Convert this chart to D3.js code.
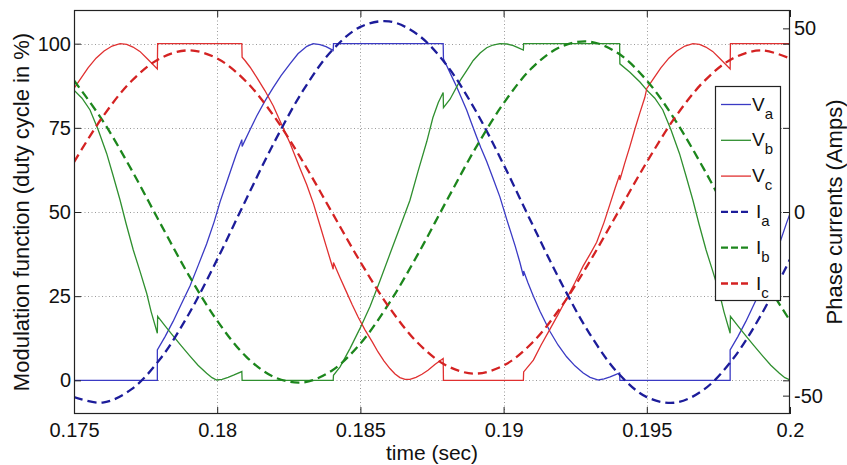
<!DOCTYPE html>
<html>
<head>
<meta charset="utf-8">
<script src="https://cdn.jsdelivr.net/npm/d3@7"></script>
<style>
  html, body { margin: 0; padding: 0; background: #fff; }
  svg { display: block; }
  text { font-family: "Liberation Sans", Arial, Helvetica, sans-serif; fill: #111; }
</style>
</head>
<body>
<svg id="chart" width="847" height="465"></svg>
<script>
// ---- axis ticks ----
const xTicks = [0.175, 0.18, 0.185, 0.19, 0.195, 0.2];
const xTickLabels = ["0.175", "0.18", "0.185", "0.19", "0.195", "0.2"];
const yLeftTicks = [0, 25, 50, 75, 100];
const yRightTicks = [-50, 0, 50];

// ---- phase currents (Amps), sampled every 1 ms ----
const tCurrent = [0.175, 0.176, 0.177, 0.178, 0.179, 0.180, 0.181, 0.182, 0.183, 0.184,
                  0.185, 0.186, 0.187, 0.188, 0.189, 0.190, 0.191, 0.192, 0.193, 0.194,
                  0.195, 0.196, 0.197, 0.198, 0.199, 0.200];
const iA = [-50.4, -51.9, -48.3, -40.1, -27.9, -12.9, 3.3, 19.1, 33.1, 43.9,
            50.4, 51.9, 48.3, 40.1, 27.9, 12.9, -3.3, -19.1, -33.1, -43.9,
            -50.4, -51.9, -48.3, -40.1, -27.9, -12.9];
const iB = [35.8, 24.9, 11.6, -2.9, -17.1, -29.6, -39.3, -45.0, -46.4, -43.2,
            -35.8, -24.9, -11.6, 2.9, 17.1, 29.6, 39.3, 45.0, 46.4, 43.2,
            35.8, 24.9, 11.6, -2.9, -17.1, -29.6];
const iC = [13.6, 25.9, 35.6, 41.8, 44.0, 41.8, 35.6, 25.9, 13.6, 0.0,
            -13.6, -25.9, -35.6, -41.8, -44.0, -41.8, -35.6, -25.9, -13.6, 0.0,
            13.6, 25.9, 35.6, 41.8, 44.0, 41.8];

// ---- modulation functions (duty cycle, %), [time, value] ----
const vA = [
  [0.17500, 0], [0.17791, 0], [0.17791, 9], [0.17818, 13], [0.17846, 17.5], [0.17874, 22.5],
  [0.17905, 28], [0.17933, 34], [0.17963, 40.5], [0.17989, 47], [0.18010, 53], [0.18038, 60],
  [0.18066, 67], [0.18086, 71.5], [0.18087, 69.5], [0.18115, 74.5], [0.18138, 78.5], [0.18167, 83],
  [0.18196, 87], [0.18223, 90.5], [0.18254, 94], [0.18282, 97], [0.18313, 99.2], [0.18335, 100],
  [0.18359, 99.7], [0.18380, 99.1], [0.18405, 98], [0.18406, 100], [0.18789, 100], [0.18790, 95.5],
  [0.18801, 93.5], [0.18816, 90.8], [0.18836, 87.2], [0.18851, 84.2], [0.18871, 80.3], [0.18886, 76.8],
  [0.18906, 72.3], [0.18921, 69], [0.18941, 65], [0.18963, 60], [0.18987, 54.5], [0.19012, 47.5],
  [0.19040, 40], [0.19057, 35], [0.19069, 31], [0.19070, 32.5], [0.19085, 29], [0.19104, 25],
  [0.19127, 20.5], [0.19162, 14.5], [0.19190, 10.5], [0.19220, 7], [0.19249, 4.3], [0.19278, 2.2],
  [0.19302, 0.9], [0.19331, 0.1], [0.19351, 0.4], [0.19372, 1], [0.19389, 1.6], [0.19405, 2.2],
  [0.19406, 0], [0.19791, 0], [0.19791, 9], [0.19818, 13], [0.19846, 17.5], [0.19874, 22.5],
  [0.19905, 28], [0.19933, 34], [0.19963, 40.5], [0.19989, 47], [0.20000, 49.5]
];
const vB = [
  [0.17500, 86.2], [0.17528, 83.8], [0.17556, 80.3], [0.17584, 74.5], [0.17614, 67.4], [0.17636, 61],
  [0.17661, 53.5], [0.17682, 46.5], [0.17707, 38.7], [0.17730, 32.5], [0.17754, 25.8], [0.17769, 20.5],
  [0.17791, 14], [0.17792, 19], [0.17818, 16.2], [0.17846, 13.2], [0.17874, 10.3], [0.17905, 7.2],
  [0.17933, 4.5], [0.17963, 2.1], [0.17982, 0.8], [0.17998, 0.1], [0.18017, 0.3], [0.18038, 0.9],
  [0.18059, 1.6], [0.18086, 2.6], [0.18087, 0], [0.18405, 0], [0.18406, 1.5], [0.18429, 4],
  [0.18464, 9.5], [0.18499, 15.5], [0.18534, 22], [0.18568, 29.5], [0.18603, 37.5], [0.18638, 45.5],
  [0.18673, 53.5], [0.18701, 62], [0.18732, 71], [0.18753, 78], [0.18772, 82.5], [0.18789, 85.5],
  [0.18790, 81], [0.18813, 83.5], [0.18848, 89], [0.18871, 92], [0.18894, 95], [0.18918, 97.2],
  [0.18941, 98.8], [0.18963, 99.6], [0.18987, 100], [0.19012, 99.9], [0.19034, 99.4], [0.19050, 98.8],
  [0.19069, 98.1], [0.19070, 100], [0.19405, 100], [0.19406, 94], [0.19441, 91.5], [0.19476, 88.6],
  [0.19500, 86.2], [0.19528, 83.8], [0.19556, 80.3], [0.19584, 74.5], [0.19614, 67.4], [0.19636, 61],
  [0.19661, 53.5], [0.19682, 46.5], [0.19707, 38.7], [0.19730, 32.5], [0.19754, 25.8], [0.19769, 20.5],
  [0.19791, 14], [0.19792, 19], [0.19818, 16.2], [0.19846, 13.2], [0.19874, 10.3], [0.19905, 7.2],
  [0.19933, 4.5], [0.19963, 2.1], [0.19982, 0.8], [0.20000, 0.1]
];
const vC = [
  [0.17500, 86.7], [0.17521, 89.3], [0.17549, 92.8], [0.17577, 95.7], [0.17605, 97.8], [0.17633, 99.3],
  [0.17661, 100], [0.17684, 99.8], [0.17706, 99], [0.17730, 97.7], [0.17755, 95.6], [0.17791, 92.5],
  [0.17792, 100], [0.18086, 100], [0.18087, 96], [0.18097, 95], [0.18115, 93], [0.18138, 90],
  [0.18167, 86], [0.18196, 81.5], [0.18230, 75], [0.18254, 70.5], [0.18289, 63], [0.18313, 58],
  [0.18336, 52.5], [0.18359, 46], [0.18380, 40], [0.18405, 33], [0.18406, 35], [0.18429, 30.5],
  [0.18450, 26.5], [0.18471, 22.5], [0.18492, 18.8], [0.18516, 15], [0.18541, 11.5], [0.18561, 8.5],
  [0.18582, 5.8], [0.18603, 3.5], [0.18621, 1.9], [0.18638, 0.8], [0.18656, 0.3], [0.18673, 0.3],
  [0.18694, 0.9], [0.18715, 1.8], [0.18736, 3], [0.18760, 4.7], [0.18789, 6.5], [0.18790, 0],
  [0.19069, 0], [0.19070, 2.5], [0.19104, 6], [0.19131, 10.5], [0.19162, 15.2], [0.19190, 19.5],
  [0.19220, 24.3], [0.19249, 29], [0.19278, 34], [0.19302, 37.5], [0.19325, 41], [0.19351, 47],
  [0.19372, 52.5], [0.19389, 57], [0.19405, 61], [0.19406, 59.5], [0.19423, 64.5], [0.19441, 69.5],
  [0.19458, 74.5], [0.19476, 79.5], [0.19493, 84], [0.19500, 86.7], [0.19521, 89.3], [0.19549, 92.8],
  [0.19577, 95.7], [0.19605, 97.8], [0.19633, 99.3], [0.19661, 100], [0.19684, 99.8], [0.19706, 99],
  [0.19730, 97.7], [0.19755, 95.6], [0.19791, 92.5], [0.19792, 100], [0.20000, 100]
];

// ---- series styling ----
const series = [
  { key: "V", sub: "a", kind: "v", data: vA, color: "#3a3ac4" },
  { key: "V", sub: "b", kind: "v", data: vB, color: "#2f8f2f" },
  { key: "V", sub: "c", kind: "v", data: vC, color: "#e03030" },
  { key: "I", sub: "a", kind: "i", data: iA, color: "#1c1c9a" },
  { key: "I", sub: "b", kind: "i", data: iB, color: "#1c861c" },
  { key: "I", sub: "c", kind: "i", data: iC, color: "#d42222" }
];

// ---- layout ----
const W = 847, H = 465;
const plot = { left: 74, right: 790, top: 10, bottom: 414 };

const svg = d3.select("#chart");
svg.append("rect").attr("width", W).attr("height", H).attr("fill", "#fff");

const x = d3.scaleLinear().domain([0.175, 0.2]).range([plot.left, plot.right]);
const yL = d3.scaleLinear().domain([-10, 110]).range([plot.bottom, plot.top]);
const yR = d3.scaleLinear().domain([-55, 55]).range([plot.bottom, plot.top]);

svg.append("clipPath").attr("id", "plotClip")
  .append("rect")
  .attr("x", plot.left).attr("y", plot.top)
  .attr("width", plot.right - plot.left).attr("height", plot.bottom - plot.top);

// dotted grid
const grid = svg.append("g").attr("stroke", "#9a9a9a").attr("stroke-width", 1)
  .attr("stroke-dasharray", "1,2.5");
grid.selectAll("line.gx").data(xTicks.slice(1, -1)).enter().append("line")
  .attr("x1", d => Math.round(x(d)) + 0.5).attr("x2", d => Math.round(x(d)) + 0.5)
  .attr("y1", plot.top).attr("y2", plot.bottom);
grid.selectAll("line.gy").data(yLeftTicks).enter().append("line")
  .attr("y1", d => Math.round(yL(d)) + 0.5).attr("y2", d => Math.round(yL(d)) + 0.5)
  .attr("x1", plot.left).attr("x2", plot.right);

// curves
const plotG = svg.append("g").attr("clip-path", "url(#plotClip)");
const vLine = d3.line().x(d => x(d[0])).y(d => yL(d[1]));
const iLine = d3.line().x((d, i) => x(tCurrent[i])).y(d => yR(d))
  .curve(d3.curveCatmullRom.alpha(0.5));

series.filter(s => s.kind === "v").forEach(s => {
  plotG.append("path").attr("d", vLine(s.data))
    .attr("fill", "none").attr("stroke", s.color).attr("stroke-width", 1.3)
    .attr("stroke-linejoin", "miter");
});
series.filter(s => s.kind === "i").forEach(s => {
  plotG.append("path").attr("d", iLine(s.data))
    .attr("fill", "none").attr("stroke", s.color).attr("stroke-width", 2.3)
    .attr("stroke-dasharray", "9,5");
});

// axes (ticks point inward, box drawn separately)
const fontTick = "20px";
const axisStyle = g => {
  g.select(".domain").remove();
  g.selectAll(".tick line").attr("stroke", "#222");
  g.selectAll(".tick text").style("font-size", fontTick).attr("fill", "#111");
};
svg.append("g").attr("transform", `translate(0,${plot.bottom})`)
  .call(d3.axisBottom(x).tickValues(xTicks).tickFormat((d, i) => xTickLabels[i])
    .tickSize(-7).tickPadding(9)).call(axisStyle);
svg.append("g").attr("transform", `translate(0,${plot.top})`)
  .call(d3.axisTop(x).tickValues(xTicks).tickFormat("").tickSize(-7)).call(axisStyle);
svg.append("g").attr("transform", `translate(${plot.left},0)`)
  .call(d3.axisLeft(yL).tickValues(yLeftTicks).tickFormat(d3.format("d"))
    .tickSize(-7).tickPadding(3)).call(axisStyle);
svg.append("g").attr("transform", `translate(${plot.right},0)`)
  .call(d3.axisRight(yL).tickValues(yLeftTicks).tickFormat("").tickSize(-7)).call(axisStyle);
svg.append("g").attr("transform", `translate(${plot.right},0)`)
  .call(d3.axisRight(yR).tickValues(yRightTicks).tickFormat(d3.format("d"))
    .tickSize(-7).tickPadding(4)).call(axisStyle);
svg.selectAll(".tick text").text(function () { return this.textContent.replace("\u2212", "-"); });

// frame
svg.append("rect")
  .attr("x", plot.left + 0.5).attr("y", plot.top + 0.5)
  .attr("width", plot.right - plot.left - 1).attr("height", plot.bottom - plot.top - 1)
  .attr("fill", "none").attr("stroke", "#222").attr("stroke-width", 1.2);

// axis titles
svg.append("text").attr("x", (plot.left + plot.right) / 2).attr("y", 460)
  .attr("text-anchor", "middle").style("font-size", "21px").text("time (sec)");
svg.append("text").attr("transform", `translate(29,${(plot.top + plot.bottom) / 2}) rotate(-90)`)
  .attr("text-anchor", "middle").style("font-size", "22px")
  .text("Modulation function (duty cycle in %)");
svg.append("text").attr("transform", `translate(842,${(plot.top + plot.bottom) / 2}) rotate(-90)`)
  .attr("text-anchor", "middle").style("font-size", "22px")
  .text("Phase currents (Amps)");

// legend
const lg = svg.append("g").attr("transform", "translate(715,86)");
lg.append("rect").attr("x", 0.5).attr("y", 0.5).attr("width", 65).attr("height", 214)
  .attr("fill", "#fff").attr("stroke", "#222").attr("stroke-width", 1.2);
series.forEach((s, i) => {
  const yy = 18.5 + i * 35.8;
  lg.append("line").attr("x1", 6).attr("x2", 36).attr("y1", yy).attr("y2", yy)
    .attr("stroke", s.color)
    .attr("stroke-width", s.kind === "v" ? 1.3 : 2.3)
    .attr("stroke-dasharray", s.kind === "v" ? null : "7,3");
  const t = lg.append("text").attr("x", s.key === "V" ? 37 : 41).attr("y", yy + 6)
    .style("font-size", "19px").text(s.key);
  t.append("tspan").attr("dy", 8).style("font-size", "15px").text(s.sub);
});
</script>
</body>
</html>
